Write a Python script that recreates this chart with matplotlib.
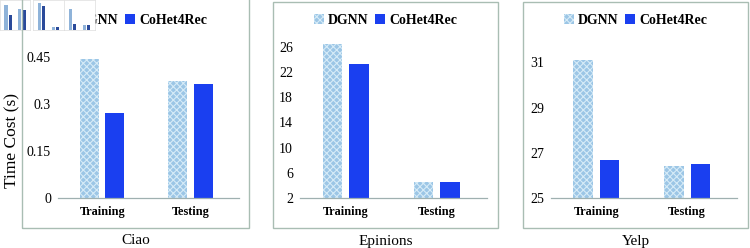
import matplotlib
matplotlib.use("Agg")
import matplotlib.pyplot as plt
from matplotlib.patches import Rectangle
import numpy as np

plt.rcParams['hatch.linewidth'] = 0.8

categories = ["Training", "Testing"]
datasets = ["Ciao", "Epinions", "Yelp"]
series_names = ["DGNN", "CoHet4Rec"]
dgnn = {"Ciao": [0.443, 0.374], "Epinions": [26.4, 4.5], "Yelp": [31.1, 26.43]}
cohet = {"Ciao": [0.272, 0.364], "Epinions": [23.2, 4.6], "Yelp": [26.7, 26.49]}
yticks = {"Ciao": [0, 0.15, 0.3, 0.45],
          "Epinions": [2, 6, 10, 14, 18, 22, 26],
          "Yelp": [25, 27, 29, 31]}
ytick_labels = {"Ciao": ["0", "0.15", "0.3", "0.45"],
                "Epinions": ["2", "6", "10", "14", "18", "22", "26"],
                "Yelp": ["25", "27", "29", "31"]}
ylims = {"Ciao": (0, 0.511), "Epinions": (2, 27.4), "Yelp": (25, 32.08)}

W, H = 750, 248
fig = plt.figure(figsize=(7.5, 2.48), dpi=100)

def fx(px):
    return px / W

def fy(py):
    return 1 - py / H

dgnn_face = "#9cc6e6"
dgnn_hatch = "#d6ebf7"
cohet_color = "#1a3ff0"
frame_color = "#a9bdb3"
serif = ["Liberation Serif", "DejaVu Serif"]

# panel frames (pixels): left, right, top, bottom
frames = [(22, 249, -2, 228), (273, 498, 2, 228), (523, 748, 2, 228)]
axes_px = [(58, 239), (300, 487), (551, 737)]
ax_top, ax_bot = 38, 198

for i, name in enumerate(datasets):
    l, r, t, b = frames[i]
    fig.patches.append(Rectangle((fx(l), fy(b)), fx(r - l), (b - t) / H,
                                 transform=fig.transFigure, fill=False,
                                 edgecolor=frame_color, linewidth=1.0))
    al, ar = axes_px[i]
    ax = fig.add_axes([fx(al), fy(ax_bot), fx(ar - al), (ax_bot - ax_top) / H])
    x = np.arange(len(categories))
    w = 0.215
    off = 0.145
    ax.bar(x - off, dgnn[name], w, color=dgnn_face, edgecolor=dgnn_hatch,
           hatch="xxxxx", linewidth=0, label=series_names[0])
    ax.bar(x + off, cohet[name], w, color=cohet_color, linewidth=0,
           label=series_names[1])
    ax.set_xlim(-0.5, 1.55)
    ax.set_ylim(*ylims[name])
    ax.set_yticks(yticks[name])
    ax.set_yticklabels(ytick_labels[name], fontfamily=serif, fontsize=10)
    ax.set_xticks(x)
    ax.set_xticklabels(categories, fontfamily=serif, fontsize=8.8, fontweight="bold")
    ax.tick_params(axis="x", length=0, pad=6)
    ax.tick_params(axis="y", length=0, pad=5)
    for s in ["top", "right", "left"]:
        ax.spines[s].set_visible(False)
    ax.spines["bottom"].set_color("#9fb0b0")
    ax.spines["bottom"].set_linewidth(0.9)
    ax.patch.set_alpha(0)
    cx = (l + r) / 2
    fig.text(fx(cx), fy(241), name, ha="center", va="center",
             fontfamily=serif, fontsize=11)
    leg = ax.legend(loc="center", bbox_to_anchor=(fx(cx), fy(20)),
                    bbox_transform=fig.transFigure, ncol=2, frameon=False,
                    prop={"family": serif, "size": 10, "weight": "bold"},
                    handlelength=0.7, handleheight=0.7, handletextpad=0.3,
                    columnspacing=0.5)

fig.text(fx(12), fy(140), "Time Cost (s)", rotation=90, ha="center",
         va="center", fontfamily=serif, fontsize=12.5)

# small thumbnail artifacts in the top-left corner
thumbs = [(0, 30, "Ciao"), (33, 64, "Epinions"), (64, 95, "Yelp")]
for l, r, name in thumbs:
    tax = fig.add_axes([fx(l), fy(30), fx(r - l), 30 / H])
    tax.set_facecolor("white")
    xt = np.arange(2)
    tax.bar(xt - 0.15, dgnn[name], 0.25, color="#8fb3d9")
    tax.bar(xt + 0.15, cohet[name], 0.25, color="#2a4a9a")
    tax.set_xlim(-0.6, 1.6)
    tax.set_ylim(ylims[name][0], ylims[name][1] * 1.05)
    tax.set_xticks([])
    tax.set_yticks([])
    for s in tax.spines.values():
        s.set_color("#dddddd")
        s.set_linewidth(0.5)

fig.savefig("out.png", dpi=100)
